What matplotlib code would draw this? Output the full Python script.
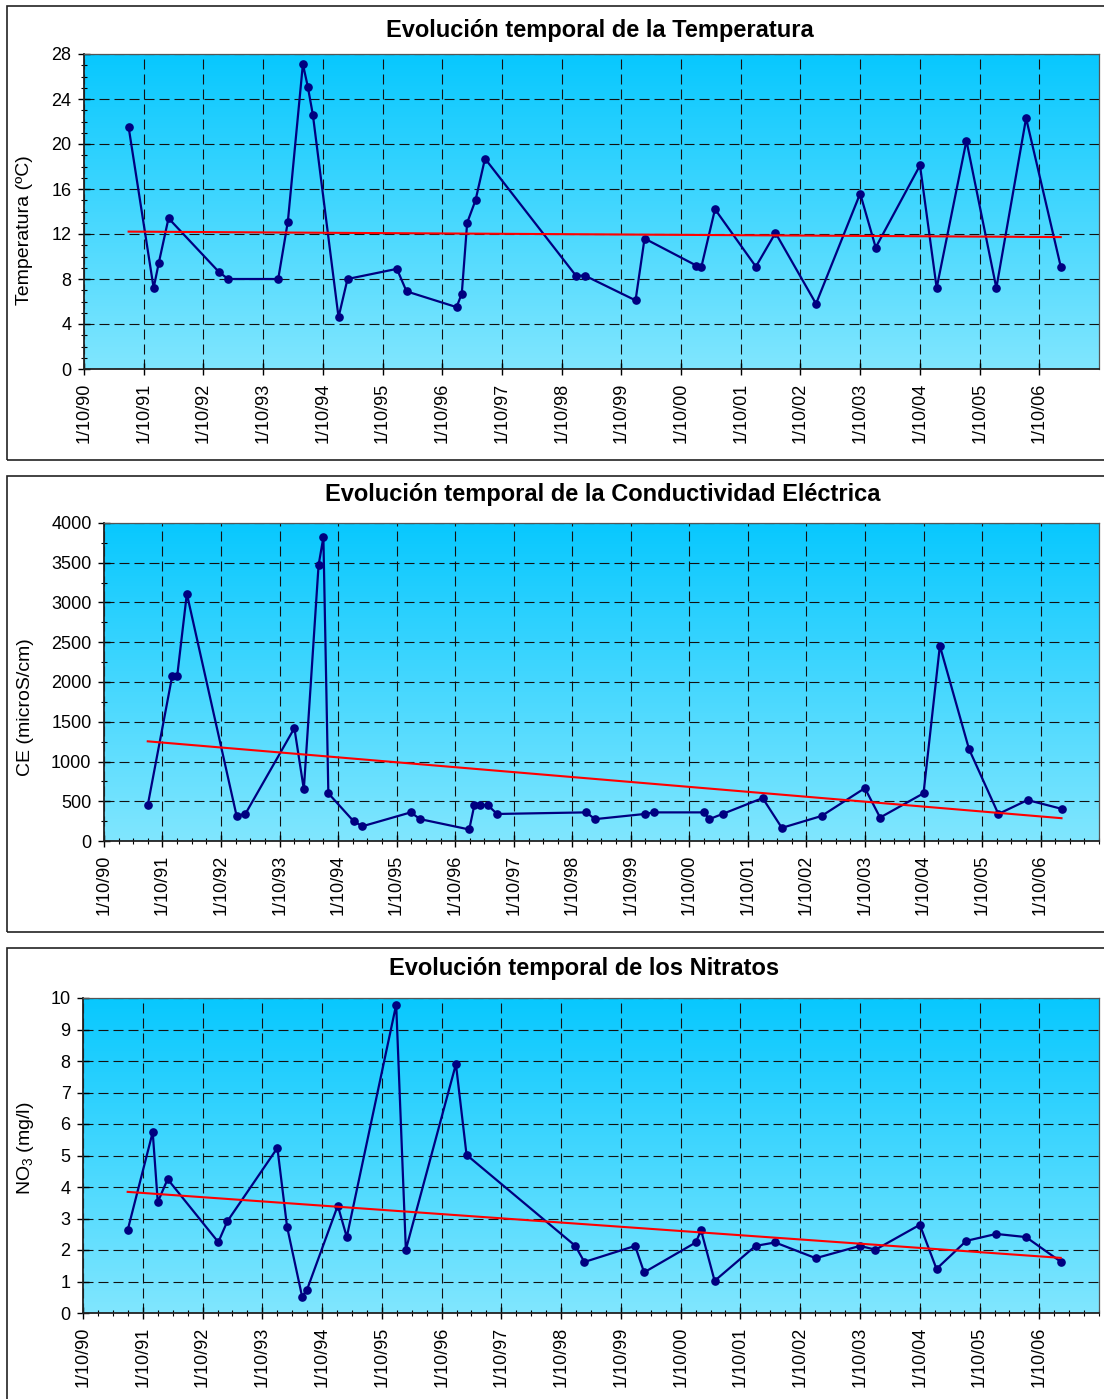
import matplotlib
matplotlib.use('Agg')
import matplotlib.pyplot as plt
import matplotlib.dates as mdates
from matplotlib.patches import Rectangle
from matplotlib.ticker import MultipleLocator, FixedLocator, NullLocator
from matplotlib.colors import LinearSegmentedColormap
import numpy as np
from datetime import datetime

plt.rcParams['font.family'] = ['Liberation Sans', 'DejaVu Sans']
plt.rcParams['mathtext.fontset'] = 'custom'
plt.rcParams['mathtext.rm'] = 'Liberation Sans'
plt.rcParams['mathtext.it'] = 'Liberation Sans:italic'

# ---------------- data ----------------
sample_dates = [
    '1991-07-01', '1991-12-01', '1992-01-01', '1992-03-01', '1993-01-05',
    '1993-03-01', '1994-01-01', '1994-03-01', '1994-06-01', '1994-07-01',
    '1994-08-01', '1995-01-05', '1995-03-01', '1995-12-28', '1996-02-25',
    '1996-12-27', '1997-01-28', '1997-03-02', '1997-04-22', '1997-06-19',
    '1998-12-27', '1999-02-20', '1999-12-27', '2000-02-20', '2001-01-01',
    '2001-02-02', '2001-04-26', '2002-01-01', '2002-05-01', '2003-01-04',
    '2003-10-01', '2004-01-04', '2004-10-01', '2005-01-11', '2005-07-12',
    '2006-01-11', '2006-07-12', '2007-02-09',
]
temperature = [
    21.5, 7.2, 9.4, 13.4, 8.6, 8.0, 8.0, 13.1, 27.1, 25.1,
    22.6, 4.6, 8.0, 8.9, 6.9, 5.5, 6.7, 13.0, 15.0, 18.7,
    8.3, 8.3, 6.1, 11.6, 9.2, 9.1, 14.2, 9.1, 12.1, 5.8,
    15.6, 10.8, 18.1, 7.2, 20.3, 7.2, 22.3, 9.1,
]
conductivity = [
    450, 2080, 2080, 3110, 320, 340, 1420, 650, 3470, 3820,
    600, 250, 185, 360, 275, 145, 450, 450, 450, 340,
    360, 275, 340, 360, 360, 275, 340, 540, 165, 315,
    665, 295, 600, 2455, 1155, 340, 515, 405,
]
nitrate_dates = [
    '1991-07-01', '1991-12-01', '1992-01-01', '1992-03-01', '1993-01-05',
    '1993-03-01', '1994-01-01', '1994-03-01', '1994-06-01', '1994-07-01',
    '1995-01-05', '1995-03-01', '1995-12-28', '1996-02-25', '1996-12-27',
    '1997-03-02',
    '1998-12-27', '1999-02-20', '1999-12-27', '2000-02-20', '2001-01-01',
    '2001-02-02', '2001-04-26', '2002-01-01', '2002-05-01', '2003-01-04',
    '2003-10-01', '2004-01-04', '2004-10-01', '2005-01-11', '2005-07-12',
    '2006-01-11', '2006-07-12', '2007-02-09',
]
nitrates = [
    2.63, 5.74, 3.52, 4.25, 2.25, 2.91, 5.24, 2.74, 0.52, 0.74,
    3.41, 2.41, 9.79, 2.01, 7.90, 5.02,
    2.13, 1.62, 2.13, 1.29, 2.24, 2.63, 1.02, 2.13, 2.24, 1.74,
    2.13, 2.01, 2.80, 1.40, 2.29, 2.51, 2.41, 1.63,
]
tick_years = list(range(1990, 2007))
tick_labels = ['1/10/90', '1/10/91', '1/10/92', '1/10/93', '1/10/94', '1/10/95',
               '1/10/96', '1/10/97', '1/10/98', '1/10/99', '1/10/00', '1/10/01',
               '1/10/02', '1/10/03', '1/10/04', '1/10/05', '1/10/06']

titles = ['Evolución temporal de la Temperatura',
          'Evolución temporal de la Conductividad Eléctrica',
          'Evolución temporal de los Nitratos']
ylabels = ['Temperatura (ºC)', 'CE (microS/cm)', r'NO$_3$ (mg/l)']

# ---------------- figure ----------------
W, H = 1104, 1399
fig = plt.figure(figsize=(W / 100, H / 100), dpi=100)


def fx(px):
    return px / W


def fy(py):
    return 1 - py / H


# panel frames
for top, bot in [(6, 460), (476, 932), (948, 1420)]:
    fig.add_artist(Rectangle((fx(7), fy(bot)), fx(1130) - fx(7), fy(top) - fy(bot),
                             transform=fig.transFigure, fill=False,
                             edgecolor='#222222', lw=1.2))

grad = np.linspace(0, 1, 256).reshape(-1, 1)
cmap = LinearSegmentedColormap.from_list('bg', ['#80E6FF', '#08C8FE'])

x0 = mdates.date2num(datetime(1990, 10, 1))
x1 = mdates.date2num(datetime(2007, 10, 1))
tick_pos = [mdates.date2num(datetime(y, 10, 1)) for y in tick_years]

panels = [
    dict(l=84, r=1099, t=54, b=369, dates=sample_dates, vals=temperature,
         ylim=(0, 28), major=4, minor=1, xminor=False,
         title_xy=(600, 30), ylab_xy=(25, 230)),
    dict(l=104, r=1099, t=523, b=841, dates=sample_dates, vals=conductivity,
         ylim=(0, 4000), major=500, minor=250, xminor=True,
         title_xy=(603, 494), ylab_xy=(25, 707)),
    dict(l=83, r=1099, t=998, b=1313, dates=nitrate_dates, vals=nitrates,
         ylim=(0, 10), major=1, minor=None, xminor=True,
         title_xy=(584, 968), ylab_xy=(25, 1148)),
]

for i, p in enumerate(panels):
    ax = fig.add_axes([fx(p['l']), fy(p['b']), fx(p['r']) - fx(p['l']), fy(p['t']) - fy(p['b'])])
    ax.imshow(grad, extent=[0, 1, 0, 1], transform=ax.transAxes, origin='lower',
              cmap=cmap, aspect='auto', zorder=0)
    d = mdates.date2num([datetime.strptime(s, '%Y-%m-%d') for s in p['dates']])
    v = np.array(p['vals'], dtype=float)
    ax.plot(d, v, color='#000080', lw=1.6, marker='o', ms=5.2, zorder=4)
    coef = np.polyfit(d, v, 1)
    xt = np.array([d[0], d[-1]])
    ax.plot(xt, np.polyval(coef, xt), color='#FF0000', lw=1.5, zorder=5)

    ax.set_xlim(x0, x1)
    ax.set_ylim(*p['ylim'])
    ax.xaxis.set_major_locator(FixedLocator(tick_pos))
    ax.set_xticklabels(tick_labels, rotation=90, va='top', ha='center')
    if p['xminor']:
        ax.xaxis.set_minor_locator(mdates.MonthLocator(bymonth=[1, 4, 7, 10]))
    else:
        ax.xaxis.set_minor_locator(NullLocator())
    ax.yaxis.set_major_locator(MultipleLocator(p['major']))
    if p['minor']:
        ax.yaxis.set_minor_locator(MultipleLocator(p['minor']))
    else:
        ax.yaxis.set_minor_locator(NullLocator())

    ax.grid(True, which='major', color='#111111', lw=0.8, linestyle=(0, (9, 4.5)), zorder=1)
    ax.tick_params(axis='both', which='major', direction='inout', length=8, width=1,
                   labelsize=13, pad=5)
    ax.tick_params(axis='both', which='minor', direction='inout', length=5, width=0.8)
    ax.tick_params(axis='x', which='major', pad=6)
    for s in ['left', 'bottom']:
        ax.spines[s].set_color('#222222')
        ax.spines[s].set_linewidth(1.3)
    for s in ['top', 'right']:
        ax.spines[s].set_color('#555555')
        ax.spines[s].set_linewidth(0.9)

    fig.text(fx(p['title_xy'][0]), fy(p['title_xy'][1]), titles[i], ha='center', va='center',
             fontsize=17, fontweight='bold')
    fig.text(fx(p['ylab_xy'][0]), fy(p['ylab_xy'][1]), ylabels[i], ha='center', va='center',
             rotation=90, fontsize=14)

fig.savefig('out.png', dpi=100)
